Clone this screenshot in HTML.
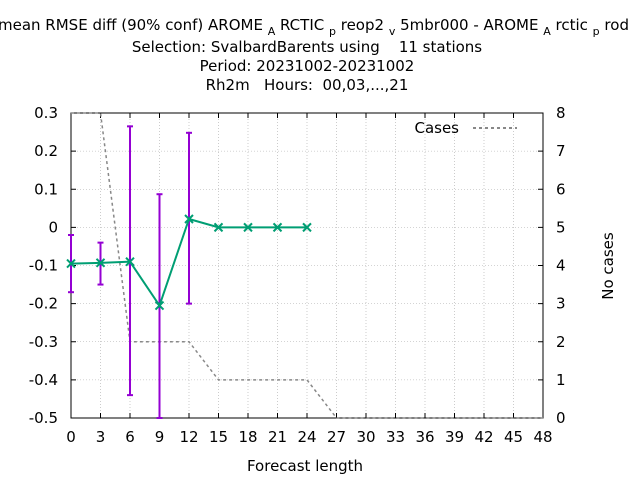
<!DOCTYPE html>
<html><head><meta charset="utf-8"><style>
body{margin:0;background:#fff;overflow:hidden;}
svg{display:block;font-family:"DejaVu Sans","Liberation Sans",sans-serif;}
</style></head><body>
<svg id="chart" width="640" height="480">
<g font-size="15" text-anchor="middle" fill="#000">
<text x="-2" y="30" text-anchor="start" xml:space="preserve">mean RMSE diff (90% conf) AROME <tspan font-size="11" dy="5">A</tspan><tspan dy="-5"> RCTIC </tspan><tspan font-size="11" dy="5">p</tspan><tspan dy="-5"> reop2 </tspan><tspan font-size="11" dy="5">v</tspan><tspan dy="-5"> 5mbr000 - AROME </tspan><tspan font-size="11" dy="5">A</tspan><tspan dy="-5"> rctic </tspan><tspan font-size="11" dy="5">p</tspan><tspan dy="-5"> rod</tspan></text>
<text x="307" y="52">Selection: SvalbardBarents using &#160;&#160;&#160;11 stations</text>
<text x="307" y="71">Period: 20231002-20231002</text>
<text x="307" y="90">Rh2m &#160;&#160;Hours: &#160;00,03,...,21</text>
</g>
<g id="grid"></g>
<g id="axes"></g>
<g id="series"></g>
<text x="305" y="471" font-size="15" text-anchor="middle">Forecast length</text>
<text transform="translate(613,266) rotate(-90)" font-size="15" text-anchor="middle">No cases</text>
<g>
<text x="459" y="133" font-size="15" text-anchor="end">Cases</text>
<line x1="473" y1="128" x2="517" y2="128" stroke="#888" stroke-width="2" stroke-dasharray="3,3"/>
</g>
</svg>
<script>
const hours=[0,3,6,9,12,15,18,21,24];
const values=[-0.095,-0.093,-0.09,-0.205,0.022,0,0,0,0];
const errLow=[-0.17,-0.15,-0.44,-0.5,-0.2,null,null,null,null];
const errHigh=[-0.02,-0.04,0.265,0.087,0.248,null,null,null,null];
const caseHours=[0,3,6,9,12,15,18,21,24,27,30,33,36,39,42,45,48];
const cases=[8,8,2,2,2,1,1,1,1,0,0,0,0,0,0,0,0];
const xTicks=[0,3,6,9,12,15,18,21,24,27,30,33,36,39,42,45,48];
const yTicks=[0.3,0.2,0.1,0,-0.1,-0.2,-0.3,-0.4,-0.5];
const y2Ticks=[0,1,2,3,4,5,6,7,8];
const L=71,R=543,T=113,B=418;
const X=h=>L+(h-0)/48*(R-L);
const Y=v=>T+(0.3-v)/0.8*(B-T);
const Y2=c=>B-c/8*(B-T);
const NS="http://www.w3.org/2000/svg";
function mk(p,tag,a){const e=document.createElementNS(NS,tag);for(const k in a)e.setAttribute(k,a[k]);p.appendChild(e);return e;}
const grid=document.getElementById('grid'),axes=document.getElementById('axes'),ser=document.getElementById('series');
xTicks.forEach(t=>{const x=X(t);
 const g=mk(grid,'line',{x1:x,y1:T,x2:x,y2:B,stroke:'#aaa','stroke-width':0.6,'stroke-dasharray':'1,2'});
 
 mk(axes,'line',{x1:x,y1:B,x2:x,y2:B-5,stroke:'#000'});mk(axes,'line',{x1:x,y1:T,x2:x,y2:T+5,stroke:'#000'});
 const tx=mk(axes,'text',{x:x,y:B+24,'font-size':15,'text-anchor':'middle'});tx.textContent=t;
 });
yTicks.forEach(t=>{const y=Y(t);
 const g=mk(grid,'line',{x1:L,y1:y,x2:R,y2:y,stroke:'#aaa','stroke-width':0.6,'stroke-dasharray':'1,2'});
 
 mk(axes,'line',{x1:L,y1:y,x2:L+5,y2:y,stroke:'#000'});
 const tx=mk(axes,'text',{x:L-13,y:y+5,'font-size':15,'text-anchor':'end'});tx.textContent=(Math.round(t*10)/10).toString();
 });
y2Ticks.forEach(t=>{const y=Y2(t);
 mk(axes,'line',{x1:R,y1:y,x2:R-5,y2:y,stroke:'#000'});
 const tx=mk(axes,'text',{x:R+13,y:y+5,'font-size':15});tx.textContent=t;
 });
const fr=mk(axes,'rect',{x:L,y:T,width:R-L,height:B-T,fill:'none',stroke:'#000'});

const cl=mk(ser,'polyline',{points:caseHours.map((h,i)=>X(h)+','+Y2(cases[i])).join(' '),fill:'none',stroke:'#888','stroke-width':1.5,'stroke-dasharray':'3,3'});

hours.forEach((h,i)=>{if(errLow[i]==null)return;const x=X(h);
 const e=mk(ser,'g',{stroke:'#9400d3','stroke-width':2});
 
 mk(e,'line',{x1:x,y1:Y(errLow[i]),x2:x,y2:Y(errHigh[i])});
 mk(e,'line',{x1:x-3,y1:Y(errLow[i]),x2:x+3,y2:Y(errLow[i])});
 mk(e,'line',{x1:x-3,y1:Y(errHigh[i]),x2:x+3,y2:Y(errHigh[i])});});
const ml=mk(ser,'polyline',{points:hours.map((h,i)=>X(h)+','+Y(values[i])).join(' '),fill:'none',stroke:'#009e73','stroke-width':2});

hours.forEach((h,i)=>{const x=X(h),y=Y(values[i]);
 const p=mk(ser,'path',{d:`M${x-4},${y-4}L${x+4},${y+4}M${x-4},${y+4}L${x+4},${y-4}`,stroke:'#009e73','stroke-width':2});
 });
</script>
</body></html>
